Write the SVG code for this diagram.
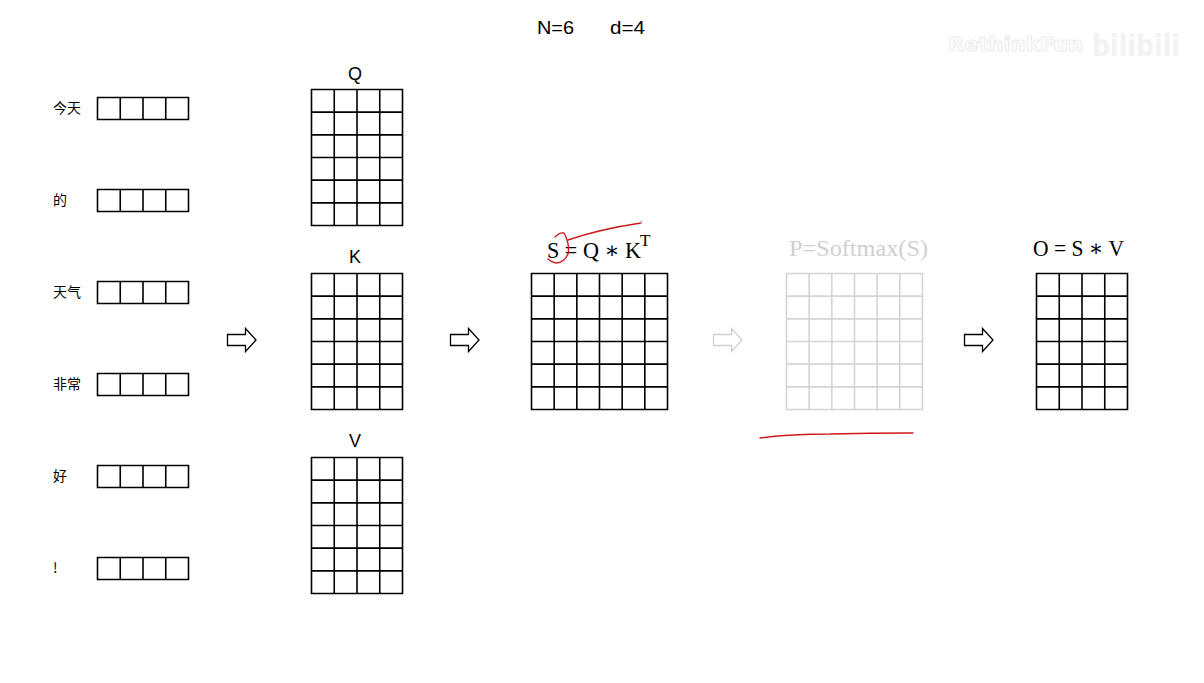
<svg xmlns="http://www.w3.org/2000/svg" width="1204" height="683" viewBox="0 0 1204 683">
<defs>
<style>
.g{fill:none;stroke:#000;stroke-width:1.6}
.gl{fill:none;stroke:#d4d4d4;stroke-width:1.6}
.cjk{font-family:"Noto Sans CJK SC","Noto Sans",sans-serif;font-size:14px;fill:#000}
.lab{font-family:"Liberation Sans",Arial,sans-serif;font-size:18px;fill:#000;text-anchor:middle}
.f{font-family:"Liberation Serif","DejaVu Serif",serif;font-size:23px}
.arr{fill:#fff;stroke-width:1.3}
.red{fill:none;stroke:#d01818;stroke-width:1.4;stroke-linecap:round}
</style>
</defs>
<rect width="1204" height="683" fill="#fff"/>

<text x="537" y="34" font-family="Liberation Sans,Arial,sans-serif" font-size="19" textLength="37" lengthAdjust="spacingAndGlyphs">N=6</text>
<text x="610" y="34" font-family="Liberation Sans,Arial,sans-serif" font-size="19" textLength="35" lengthAdjust="spacingAndGlyphs">d=4</text>

<g id="watermark" font-family="DejaVu Sans,sans-serif" font-weight="bold">
<text x="948" y="51" font-size="19" fill="#fff" stroke="#ececec" stroke-width="1" textLength="135" lengthAdjust="spacingAndGlyphs">RethinkFun</text>
<text x="1092" y="56" font-size="30" fill="#f2f2f2" textLength="88" lengthAdjust="spacingAndGlyphs">bilibili</text>
</g>

<g id="tokens">
<g id="t1"><text class="cjk" x="53" y="113">今天</text><path class="g" d="M97.5 97.5h91v22h-91zM120.25 97.5v22M143 97.5v22M165.75 97.5v22"/></g>
<g id="t2"><text class="cjk" x="53" y="205">的</text><path class="g" d="M97.5 189.5h91v22h-91zM120.25 189.5v22M143 189.5v22M165.75 189.5v22"/></g>
<g id="t3"><text class="cjk" x="53" y="297">天气</text><path class="g" d="M97.5 281.5h91v22h-91zM120.25 281.5v22M143 281.5v22M165.75 281.5v22"/></g>
<g id="t4"><text class="cjk" x="53" y="389">非常</text><path class="g" d="M97.5 373.5h91v22h-91zM120.25 373.5v22M143 373.5v22M165.75 373.5v22"/></g>
<g id="t5"><text class="cjk" x="53" y="481">好</text><path class="g" d="M97.5 465.5h91v22h-91zM120.25 465.5v22M143 465.5v22M165.75 465.5v22"/></g>
<g id="t6"><text class="cjk" x="53" y="573">!</text><path class="g" d="M97.5 557.5h91v22h-91zM120.25 557.5v22M143 557.5v22M165.75 557.5v22"/></g>
</g>

<g id="Q"><text class="lab" x="355" y="80">Q</text>
<path class="g" d="M311.5 89.5h91v136h-91zM334.25 89.5v136M357 89.5v136M379.75 89.5v136M311.5 112.17h91M311.5 134.83h91M311.5 157.5h91M311.5 180.17h91M311.5 202.83h91"/></g>
<g id="K"><text class="lab" x="355" y="263">K</text>
<path class="g" d="M311.5 273.5h91v136h-91zM334.25 273.5v136M357 273.5v136M379.75 273.5v136M311.5 296.17h91M311.5 318.83h91M311.5 341.5h91M311.5 364.17h91M311.5 386.83h91"/></g>
<g id="V"><text class="lab" x="355" y="447">V</text>
<path class="g" d="M311.5 457.5h91v136h-91zM334.25 457.5v136M357 457.5v136M379.75 457.5v136M311.5 480.17h91M311.5 502.83h91M311.5 525.5h91M311.5 548.17h91M311.5 570.83h91"/></g>

<g id="S">
<text class="f" x="547" y="258" fill="#000"><tspan textLength="94" lengthAdjust="spacingAndGlyphs">S = Q ∗ K</tspan><tspan x="640" y="246" style="font-size:17px">T</tspan></text>
<path class="g" d="M531.5 273.5h136v136h-136zM554.17 273.5v136M576.83 273.5v136M599.5 273.5v136M622.17 273.5v136M644.83 273.5v136M531.5 296.17h136M531.5 318.83h136M531.5 341.5h136M531.5 364.17h136M531.5 386.83h136"/>
</g>

<g id="P">
<text class="f" x="789" y="256" fill="#d0d0d0" textLength="139" lengthAdjust="spacingAndGlyphs">P=Softmax(S)</text>
<path class="gl" d="M786.5 273.5h136v136h-136zM809.17 273.5v136M831.83 273.5v136M854.5 273.5v136M877.17 273.5v136M899.83 273.5v136M786.5 296.17h136M786.5 318.83h136M786.5 341.5h136M786.5 364.17h136M786.5 386.83h136"/>
</g>

<g id="O">
<text class="f" x="1033" y="256" fill="#000" textLength="91" lengthAdjust="spacingAndGlyphs">O = S ∗ V</text>
<path class="g" d="M1036.5 273.5h91v136h-91zM1059.25 273.5v136M1082 273.5v136M1104.75 273.5v136M1036.5 296.17h91M1036.5 318.83h91M1036.5 341.5h91M1036.5 364.17h91M1036.5 386.83h91"/>
</g>

<g id="connectors">
<path class="arr" stroke="#000" d="M227.5 334.5h18v-6l10.5 11.5l-10.5 11.5v-6h-18z"/>
<path class="arr" stroke="#000" d="M450.5 334.5h18v-6l10.5 11.5l-10.5 11.5v-6h-18z"/>
<path class="arr" stroke="#d0d0d0" d="M713.5 334.5h18v-6l10.5 11.5l-10.5 11.5v-6h-18z"/>
<path class="arr" stroke="#000" d="M964.5 334.5h18v-6l10.5 11.5l-10.5 11.5v-6h-18z"/>
</g>

<g id="annotations">
<path class="red" d="M555 237Q560 232 564 233Q570 244 568 254Q564 263 556 263Q551 262 548 259"/>
<path class="red" d="M568 240Q600 229 641 223"/>
<path d="M640 223l2-2" stroke="#aaa" stroke-width="1.2"/>
<path class="red" d="M760 438Q790 434 830 434Q870 433 913 433"/>
</g>
</svg>
